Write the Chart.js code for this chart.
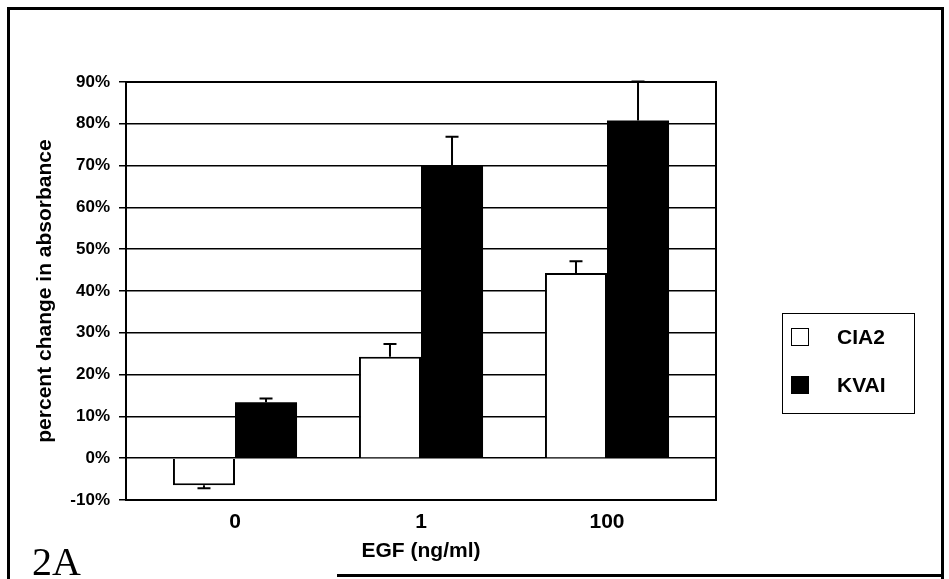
<!DOCTYPE html>
<html>
<head>
<meta charset="utf-8">
<script src="https://cdn.jsdelivr.net/npm/chart.js@4.4.1/dist/chart.umd.min.js"></script>
<style>
  html, body { margin: 0; padding: 0; background: #fff; }
  #wrap { position: relative; width: 949px; height: 579px; overflow: hidden; }
  #frame { position: absolute; left: 7px; top: 7px; width: 931px; height: 580px;
           border: 3px solid #000; border-bottom: none; }
  #frameBottom { position: absolute; left: 337px; top: 574px; width: 607px; height: 3px; background: #000; }
  #panel { position: absolute; left: 32px; top: 542px; font: 40px/40px "Liberation Serif", "Times New Roman", serif; color: #000; }
  #legend { position: absolute; left: 782px; top: 313px; width: 131px; height: 99px;
            border: 1.5px solid #000; font: bold 21px "Liberation Sans", Arial, sans-serif; color: #000; }
  .item { position: absolute; left: 8px; height: 20px; display: flex; align-items: center; }
  .swatch { width: 16px; height: 16px; border: 1.5px solid #000; margin-right: 28px; }
  canvas { position: absolute; left: 0; top: 0; }
</style>
</head>
<body>
<div id="wrap">
  <canvas id="chart" width="949" height="579"></canvas>
  <div id="frame"></div>
  <div id="frameBottom"></div>
  <div id="panel">2A</div>
  <div id="legend"></div>
</div>
<script>
const categories = ["0", "1", "100"];
const seriesNames = ["CIA2", "KVAI"];
const seriesColors = ["#ffffff", "#000000"];
const cia2 = [-6.5, 24.3, 44.3];
const kvai = [13.4, 70.1, 80.8];
const cia2Err = [0.7, 3.0, 2.8];
const kvaiErr = [0.9, 6.8, 9.3];
const yTicks = [-10, 0, 10, 20, 30, 40, 50, 60, 70, 80, 90];

const font = "'Liberation Sans', Arial, sans-serif";
const errors = [cia2Err, kvaiErr];

const toPoints = (vals) => vals.map((v, i) => ({ x: i, y: v }));

const plotFrame = {
  id: "plotFrame",
  beforeDatasetsDraw(chart) {
    const { ctx, chartArea: a } = chart;
    ctx.save();
    ctx.strokeStyle = "#000";
    ctx.lineWidth = 2;
    ctx.strokeRect(a.left, a.top, a.right - a.left, a.bottom - a.top);
    ctx.restore();
  }
};

const errorBars = {
  id: "errorBars",
  afterDatasetsDraw(chart) {
    const { ctx } = chart;
    const yScale = chart.scales.y;
    ctx.save();
    ctx.strokeStyle = "#000";
    ctx.lineWidth = 2;
    chart.data.datasets.forEach((ds, di) => {
      const meta = chart.getDatasetMeta(di);
      meta.data.forEach((bar, i) => {
        const v = ds.data[i].y;
        const e = errors[di][i];
        const end = v < 0 ? v - e : v + e;
        const y0 = yScale.getPixelForValue(v);
        const y1 = yScale.getPixelForValue(end);
        ctx.beginPath();
        ctx.moveTo(bar.x, y0);
        ctx.lineTo(bar.x, y1);
        ctx.moveTo(bar.x - 6.5, y1);
        ctx.lineTo(bar.x + 6.5, y1);
        ctx.stroke();
      });
    });
    ctx.restore();
  }
};

new Chart(document.getElementById("chart"), {
  type: "bar",
  data: {
    datasets: [
      {
        label: seriesNames[0],
        data: toPoints(cia2),
        backgroundColor: seriesColors[0],
        borderColor: "#000",
        borderWidth: 2
      },
      {
        label: seriesNames[1],
        data: toPoints(kvai),
        backgroundColor: seriesColors[1],
        borderColor: "#000",
        borderWidth: 0
      }
    ]
  },
  options: {
    responsive: false,
    animation: false,
    devicePixelRatio: 1,
    categoryPercentage: 0.667,
    barPercentage: 1,
    layout: { padding: { top: 82, right: 233, bottom: 7, left: 0 } },
    plugins: {
      legend: { display: false },
      tooltip: { enabled: false }
    },
    scales: {
      x: {
        type: "linear",
        min: -0.586,
        max: 2.586,
        offset: false,
        afterFit: (s) => { s.height = 72; },
        grid: { display: false, offset: false },
        border: { display: false },
        ticks: {
          stepSize: 1,
          includeBounds: false,
          autoSkip: false,
          maxRotation: 0,
          padding: 2,
          color: "#000",
          font: { family: font, size: 21, weight: "bold" },
          callback: (v) => categories[v] ?? ""
        },
        title: {
          display: true,
          text: "EGF (ng/ml)",
          color: "#000",
          padding: { top: 0, bottom: 8 },
          font: { family: font, size: 21, weight: "bold" }
        }
      },
      y: {
        min: yTicks[0],
        max: yTicks[yTicks.length - 1],
        afterFit: (s) => { s.width = 126; },
        afterBuildTicks: (s) => { s.ticks = yTicks.map((v) => ({ value: v })); },
        grid: { color: "#000", lineWidth: 1.5, tickLength: 7, drawTicks: true },
        border: { display: true, color: "#000", width: 2 },
        ticks: {
          padding: 9,
          color: "#000",
          font: { family: font, size: 17, weight: "bold" },
          callback: (v) => v + "%"
        },
        title: {
          display: true,
          text: "percent change in absorbance",
          color: "#000",
          padding: { top: 33, bottom: 0 },
          font: { family: font, size: 21, weight: "bold" }
        }
      }
    }
  },
  plugins: [plotFrame, errorBars]
});

const legend = document.getElementById("legend");
seriesNames.forEach((name, i) => {
  const item = document.createElement("div");
  item.className = "item";
  item.style.top = (i === 0 ? 13 : 61) + "px";
  item.innerHTML = '<span class="swatch" style="background:' + seriesColors[i] + '"></span><span>' + name + "</span>";
  legend.appendChild(item);
});
</script>
</body>
</html>
